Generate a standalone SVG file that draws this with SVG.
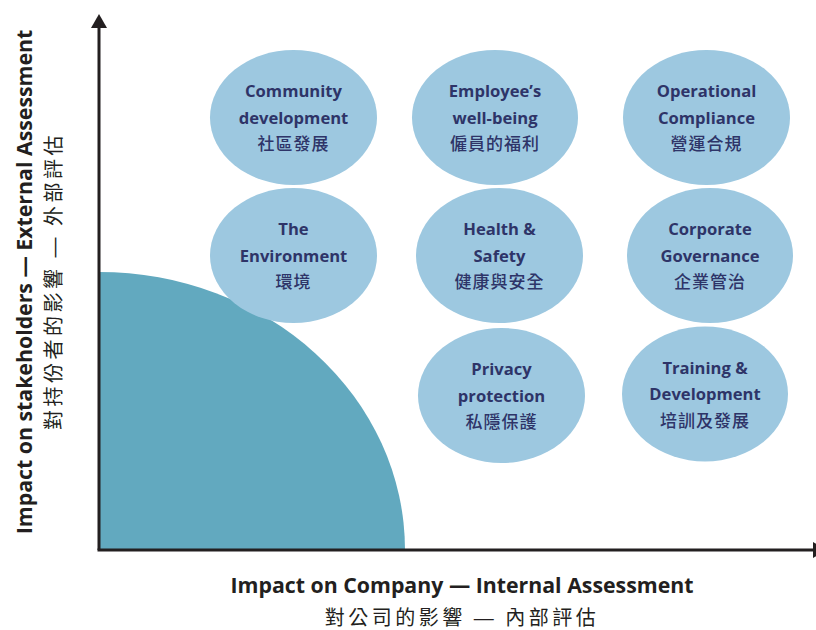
<svg xmlns="http://www.w3.org/2000/svg" width="816" height="630" viewBox="0 0 816 630">
  <style>
    .topic ellipse { fill: #9dc8e0; }
    .en { font-family: "Open Sans", "Noto Sans", sans-serif; font-weight: 700; font-size: 16.6px; fill: #2e3468; text-anchor: middle; }
    .zh { font-family: "Noto Sans CJK TC", "Noto Sans CJK SC", sans-serif; font-weight: 500; font-size: 17px; fill: #2e3468; text-anchor: middle; letter-spacing: 1px; }
    .axis { stroke: #231f20; stroke-width: 3; fill: none; }
    .title-en { font-family: "Open Sans", "Noto Sans", sans-serif; font-weight: 700; font-size: 21.3px; fill: #231f20; text-anchor: middle; }
    .title-zh { font-family: "Noto Sans CJK TC", "Noto Sans CJK SC", sans-serif; font-size: 20px; fill: #231f20; text-anchor: middle; letter-spacing: 3.5px; }
    .dash { font-family: "Liberation Sans", sans-serif; font-weight: 400; }
  </style>

  <!-- low-materiality zone -->
  <path id="zone" d="M99 550 L99 272 A306 278 0 0 1 405 550 Z" fill="#62a9bf"/>

  <!-- axes -->
  <g id="connectors">
    <line class="axis" x1="99" y1="550" x2="99" y2="26"/>
    <path d="M91 28 L99 14 L107 28 Z" fill="#231f20"/>
    <line class="axis" x1="97.5" y1="550" x2="816" y2="550"/>
    <path d="M813 542 L827 550 L813 558 Z" fill="#231f20"/>
  </g>

  <!-- topics -->
  <g id="community" class="topic">
    <ellipse cx="293.5" cy="117.5" rx="83.5" ry="67.5"/>
    <text class="en" x="293.5" y="97">Community</text>
    <text class="en" x="293.5" y="123.5">development</text>
    <text class="zh" x="293.5" y="150">社區發展</text>
  </g>
  <g id="employee" class="topic">
    <ellipse cx="495" cy="117.5" rx="83" ry="67.5"/>
    <text class="en" x="495" y="97">Employee’s</text>
    <text class="en" x="495" y="123.5">well-being</text>
    <text class="zh" x="495" y="150">僱員的福利</text>
  </g>
  <g id="operational" class="topic">
    <ellipse cx="706.5" cy="117.5" rx="83.5" ry="67.5"/>
    <text class="en" x="706.5" y="97">Operational</text>
    <text class="en" x="706.5" y="123.5">Compliance</text>
    <text class="zh" x="706.5" y="150">營運合規</text>
  </g>
  <g id="environment" class="topic">
    <ellipse cx="293.5" cy="255.5" rx="83.5" ry="67.5"/>
    <text class="en" x="293.5" y="235">The</text>
    <text class="en" x="293.5" y="261.5">Environment</text>
    <text class="zh" x="293.5" y="288">環境</text>
  </g>
  <g id="health" class="topic">
    <ellipse cx="499.5" cy="255.5" rx="83.5" ry="67.5"/>
    <text class="en" x="499.5" y="235">Health &amp;</text>
    <text class="en" x="499.5" y="261.5">Safety</text>
    <text class="zh" x="499.5" y="288">健康與安全</text>
  </g>
  <g id="governance" class="topic">
    <ellipse cx="710" cy="255.5" rx="83" ry="67.5"/>
    <text class="en" x="710" y="235">Corporate</text>
    <text class="en" x="710" y="261.5">Governance</text>
    <text class="zh" x="710" y="288">企業管治</text>
  </g>
  <g id="privacy" class="topic">
    <ellipse cx="501.5" cy="395.5" rx="83.5" ry="67.5"/>
    <text class="en" x="501.5" y="375">Privacy</text>
    <text class="en" x="501.5" y="401.5">protection</text>
    <text class="zh" x="501.5" y="428">私隱保護</text>
  </g>
  <g id="training" class="topic">
    <ellipse cx="705" cy="394" rx="83" ry="67.5"/>
    <text class="en" x="705" y="373.5">Training &amp;</text>
    <text class="en" x="705" y="400">Development</text>
    <text class="zh" x="705" y="426.5">培訓及發展</text>
  </g>

  <!-- axis titles -->
  <g id="x-title">
    <text class="title-en" x="462" y="593">Impact on Company — Internal Assessment</text>
    <text class="title-zh" x="462" y="624.5">對公司的影響 <tspan class="dash">—</tspan> 內部評估</text>
  </g>
  <g id="y-title">
    <text class="title-en" transform="translate(32 282) rotate(-90)">Impact on stakeholders — External Assessment</text>
    <text class="title-zh" transform="translate(61 281) rotate(-90)">對持份者的影響 <tspan class="dash">—</tspan> 外部評估</text>
  </g>
</svg>
